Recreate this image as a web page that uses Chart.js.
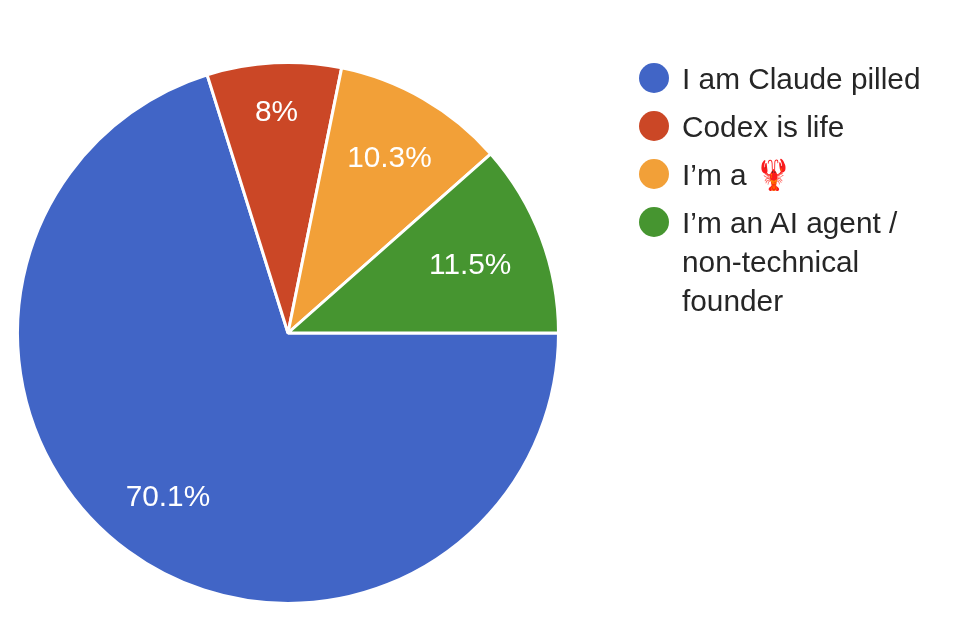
<!DOCTYPE html>
<html>
<head>
<meta charset="utf-8">
<script src="https://cdn.jsdelivr.net/npm/chart.js@4"></script>
<style>
  html, body { margin: 0; padding: 0; background: #fff; overflow: hidden; }
  #wrap { position: relative; width: 962px; height: 622px; font-family: "Liberation Sans", sans-serif; color: #262626; }
  #chart { position: absolute; left: 0; top: 0; }
  #legend { position: absolute; left: 638px; top: 59px; font-size: 29.8px; line-height: 39px; }
  .item { position: relative; padding-left: 44px; margin-bottom: 9px; width: 250px; }
  .dot { position: absolute; left: 1px; top: 4px; width: 30px; height: 30px; border-radius: 50%; }
</style>
</head>
<body>
<div id="wrap">
  <canvas id="chart" width="962" height="622"></canvas>
  <div id="legend"></div>
</div>
<script>
const categories = ["I am Claude pilled", "Codex is life", "I’m a 🦞", "I’m an AI agent / non-technical founder"];
const seriesValues = [70.1, 8, 10.3, 11.5];
const sliceLabels = ["70.1%", "8%", "10.3%", "11.5%"];
const sliceColors = ["#4165c6", "#cb4726", "#f2a038", "#469530"];
// how far out along the slice each percent sits
const labelRadius = [0.75, 0.82, 0.75, 0.72];

// percent text on each slice
const sliceText = {
  id: "sliceText",
  afterDatasetsDraw(chart) {
    const { ctx } = chart;
    const arcs = chart.getDatasetMeta(0).data;
    ctx.save();
    ctx.fillStyle = "#fff";
    ctx.font = '29.8px "Liberation Sans", sans-serif';
    ctx.textAlign = "center";
    ctx.textBaseline = "middle";
    arcs.forEach((arc, i) => {
      const { startAngle, endAngle, outerRadius, x, y } = arc.getProps(["startAngle", "endAngle", "outerRadius", "x", "y"], true);
      const mid = (startAngle + endAngle) / 2;
      const r = outerRadius * labelRadius[i];
      ctx.fillText(sliceLabels[i], x + Math.cos(mid) * r, y + Math.sin(mid) * r + 1.5);
    });
    ctx.restore();
  },
};

new Chart(document.getElementById("chart"), {
  type: "pie",
  data: {
    labels: categories,
    datasets: [{
      data: seriesValues,
      backgroundColor: sliceColors,
      borderColor: "#fff",
      borderWidth: 3,
    }],
  },
  options: {
    responsive: false,
    animation: false,
    rotation: 90,
    layout: { padding: { left: 16, top: 61, right: 402, bottom: 17 } },
    plugins: {
      legend: { display: false },
      tooltip: { enabled: false },
    },
  },
  plugins: [sliceText],
});

const legend = document.getElementById("legend");
categories.forEach((name, i) => {
  const item = document.createElement("div");
  item.className = "item";
  const dot = document.createElement("span");
  dot.className = "dot";
  dot.style.background = sliceColors[i];
  item.appendChild(dot);
  item.appendChild(document.createTextNode(name));
  legend.appendChild(item);
});
</script>
</body>
</html>
